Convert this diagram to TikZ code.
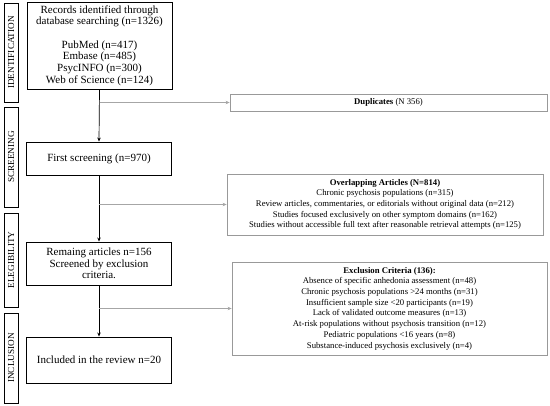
\documentclass[tikz,border=0pt]{standalone}
\usepackage{fontspec}
\setmainfont{Liberation Serif}
\usetikzlibrary{arrows.meta}
\begin{document}
\begin{tikzpicture}[x=1pt,y=-1pt,
  mainbox/.style={draw=black,line width=0.9pt,minimum width=145pt,align=center,font=\fontsize{11}{11.7}\selectfont,inner sep=1pt},
  sidebox/.style={draw=black!40,line width=0.8pt,align=center,font=\fontsize{8.7}{10.7}\selectfont,inner sep=1pt},
  phasebox/.style={draw=black,line width=0.9pt,minimum width=14pt,inner sep=0pt},
  phaselabel/.style={rotate=90,font=\fontsize{9.2}{9.5}\selectfont},
  flow/.style={draw=black,line width=0.7pt,-{Stealth[length=4pt,width=3.5pt]}},
  side/.style={draw=black!35,line width=0.8pt,-{Stealth[length=4pt,width=3.5pt]}}]
\useasboundingbox (0,0) rectangle (550,406);
% phase boxes
\node[phasebox,minimum height=99pt] (pid) at (11,52.5) {};
\node[phaselabel] (pidl) at (pid.center) {IDENTIFICATION};
\node[phasebox,minimum height=100pt] (psc) at (11,157) {};
\node[phaselabel] (pscl) at (psc.center) {SCREENING};
\node[phasebox,minimum height=94pt] (pel) at (11,260) {};
\node[phaselabel] (pell) at (pel.center) {ELEGIBILITY};
\node[phasebox,minimum height=90pt] (pin) at (11,358) {};
\node[phaselabel] (pinl) at (pin.center) {INCLUSION};
% main boxes
\node[mainbox,minimum height=87pt] (rec) at (99.5,45.5) {Records identified through\\database searching (n=1326)\\[11.7pt]PubMed (n=417)\\Embase (n=485)\\PsycINFO (n=300)\\Web of Science (n=124)};
\node[mainbox,minimum height=33pt] (fs) at (99,158.5) {First screening (n=970)};
\node[mainbox,minimum height=43pt] (rem) at (99,263.5) {Remaing articles n=156\\Screened by exclusion\\criteria.};
\node[mainbox,minimum height=46pt] (inc) at (99,360) {Included in the review n=20};
% side boxes
\node[sidebox,minimum width=317pt,minimum height=17pt] (dup) at (388.5,102.5) {\textbf{Duplicates} (N 356)};
\node[sidebox,minimum width=316pt,minimum height=61pt] (ovl) at (385,204.5) {\textbf{Overlapping Articles (N=814)}\\Chronic psychosis populations (n=315)\\Review articles, commentaries, or editorials without original data (n=212)\\Studies focused exclusively on other symptom domains (n=162)\\Studies without accessible full text after reasonable retrieval attempts (n=125)};
\node[sidebox,minimum width=315pt,minimum height=93pt] (exc) at (389.5,308.5) {\textbf{Exclusion Criteria (136):}\\Absence of specific anhedonia assessment (n=48)\\Chronic psychosis populations {>}24 months (n=31)\\Insufficient sample size {<}20 participants (n=19)\\Lack of validated outcome measures (n=13)\\At-risk populations without psychosis transition (n=12)\\Pediatric populations {<}16 years (n=8)\\Substance-induced psychosis exclusively (n=4)};
% connectors
\coordinate (j1) at (rec.south |- dup.west);
\coordinate (j2) at (fs.south |- ovl.west);
\coordinate (j3) at (rem.south |- exc.west);
\draw[flow] (rec.south) -- (fs.north);
\draw[flow] (fs.south) -- (rem.north);
\draw[flow] (rem.south) -- (inc.north);
\draw[side] (j1) -- (dup.west);
\draw[side] (j2) -- (ovl.west);
\draw[side] (j3) -- (exc.west);
\end{tikzpicture}
\end{document}
